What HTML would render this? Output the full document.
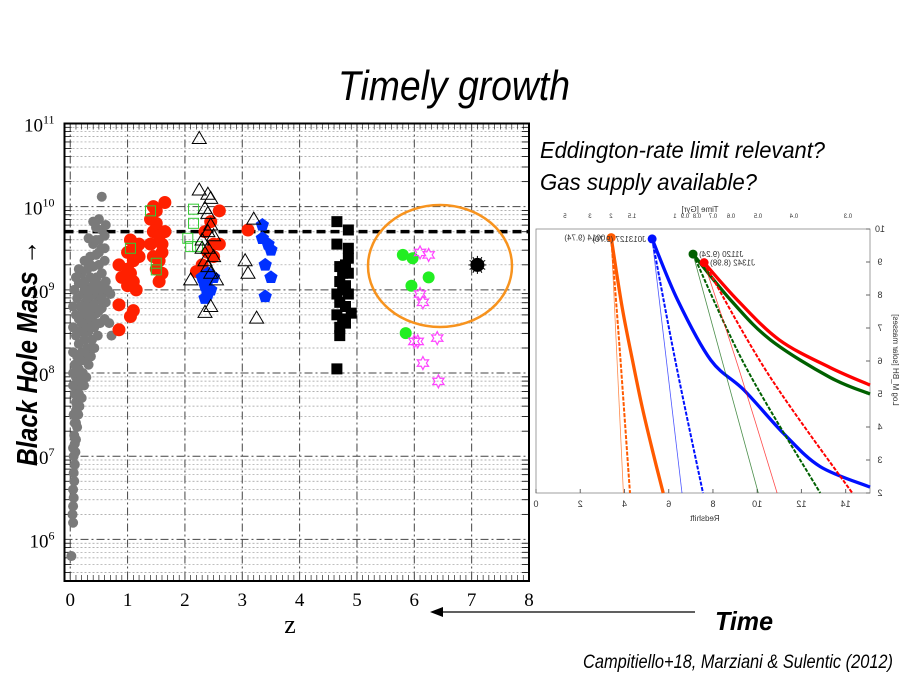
<!DOCTYPE html>
<html><head><meta charset="utf-8">
<style>
html,body{margin:0;padding:0;background:#fff;}
body{width:900px;height:675px;position:relative;overflow:hidden;}
svg{position:absolute;left:0;top:0;}
.narrow{font-family:"Liberation Sans Narrow","Liberation Sans",sans-serif;font-style:italic;}
</style></head>
<body>
<svg id="slide" width="900" height="675">
  <text x="338" y="100" textLength="232" lengthAdjust="spacingAndGlyphs" class="narrow" font-size="42" fill="#000">Timely growth</text>
  <text x="540" y="158" textLength="285" lengthAdjust="spacingAndGlyphs" class="narrow" font-size="23" fill="#000">Eddington-rate limit relevant?</text>
  <text x="540" y="190" textLength="217" lengthAdjust="spacingAndGlyphs" class="narrow" font-size="23" fill="#000">Gas supply available?</text>
  <text transform="translate(37,466) rotate(-90)" textLength="226" lengthAdjust="spacingAndGlyphs" font-family="'Liberation Sans Narrow','Liberation Sans',sans-serif" font-weight="bold" font-style="italic" font-size="29" fill="#000">Black Hole Mass →</text>
  <line x1="440" y1="612" x2="695" y2="612" stroke="#000" stroke-width="1.3"/>
  <polygon points="430,612 443,607 443,617" fill="#000"/>
  <text x="715" y="630" textLength="58" lengthAdjust="spacingAndGlyphs" font-family="'Liberation Sans Narrow','Liberation Sans',sans-serif" font-weight="bold" font-style="italic" font-size="26" fill="#000">Time</text>
  <text x="583" y="668" textLength="310" lengthAdjust="spacingAndGlyphs" class="narrow" font-size="19" fill="#000">Campitiello+18, Marziani &amp; Sulentic (2012)</text>
  <g id="main"></g>
  <g id="inset"></g>
</svg>
<script>
// ---------- main chart data ([z, log10 M]) ----------
const xTicks = [0,1,2,3,4,5,6,7,8];
const yDecades = [6,7,8,9,10,11];
const eddingtonLine = 9.70;
const grayPts = [[0.02,5.8],[0.05,6.2],[0.04,6.3],[0.05,6.4],[0.06,6.5],[0.05,6.6],[0.07,6.7],[0.06,6.8],[0.08,6.9],[0.06,7.0],[0.09,7.05],[0.05,7.1],[0.1,7.2],[0.07,7.25],[0.12,7.35],[0.08,7.4],[0.14,7.5],[0.06,7.5],[0.1,7.55],[0.16,7.6],[0.1,7.65],[0.2,7.7],[0.08,7.75],[0.13,7.8],[0.24,7.85],[0.05,7.85],[0.18,7.9],[0.1,7.95],[0.28,7.95],[0.22,8.0],[0.05,8.0],[0.15,8.05],[0.32,8.1],[0.08,8.1],[0.26,8.15],[0.12,8.2],[0.36,8.2],[0.2,8.25],[0.05,8.25],[0.3,8.3],[0.42,8.3],[0.15,8.35],[0.25,8.4],[0.38,8.4],[0.1,8.45],[0.48,8.45],[0.32,8.5],[0.2,8.5],[0.05,8.55],[0.42,8.55],[0.52,8.6],[0.28,8.6],[0.15,8.65],[0.38,8.65],[0.6,8.65],[0.1,8.7],[0.22,8.7],[0.46,8.72],[0.32,8.75],[0.55,8.78],[0.05,8.8],[0.18,8.8],[0.4,8.82],[0.27,8.85],[0.62,8.85],[0.5,8.88],[0.12,8.9],[0.35,8.92],[0.22,8.95],[0.45,8.95],[0.58,8.97],[0.07,9.0],[0.3,9.02],[0.4,9.05],[0.52,9.05],[0.15,9.08],[0.25,9.1],[0.62,9.1],[0.35,9.15],[0.46,9.15],[0.2,9.2],[0.55,9.2],[0.3,9.25],[0.4,9.28],[0.5,9.3],[0.25,9.35],[0.6,9.35],[0.35,9.4],[0.45,9.42],[0.55,9.5],[0.4,9.55],[0.5,9.6],[0.32,9.62],[0.6,9.65],[0.45,9.75],[0.55,9.72],[0.62,9.78],[0.5,9.85],[0.4,9.82],[0.55,10.12],[0.1,9.15],[0.15,9.25],[0.65,9.0],[0.7,8.95],[0.68,8.6],[0.72,8.45],[0.3,8.7],[0.35,8.55],[0.45,8.6],[0.5,8.75],[0.25,8.55],[0.4,8.95],[0.55,8.9],[0.3,8.9],[0.2,8.6],[0.15,8.5],[0.25,8.25],[0.18,8.15],[0.12,8.0],[0.2,7.95],[0.15,7.75],[0.1,7.4],[0.12,7.6],[0.08,7.15],[0.45,9.1],[0.35,9.3],[0.5,9.45],[0.45,9.6],[0.35,9.0],[0.6,9.5],[0.25,9.0]];
const redPts = [[0.85,9.3],[0.9,9.15],[0.85,8.82],[0.85,8.52],[1.1,8.75],[1.05,8.68],[1.0,9.05],[1.05,9.2],[1.1,9.35],[1.15,9.5],[1.0,9.45],[1.2,9.4],[1.1,9.1],[1.15,9.0],[1.05,9.6],[1.2,9.55],[1.0,9.25],[1.4,9.55],[1.45,9.7],[1.5,9.8],[1.55,9.65],[1.6,9.45],[1.45,9.4],[1.5,9.25],[1.55,9.1],[1.6,9.55],[1.65,9.7],[1.4,9.85],[1.5,9.95],[1.65,10.05],[1.45,10.0],[1.55,9.35],[1.6,9.2],[2.3,9.3],[2.4,9.45],[2.5,9.55],[2.6,9.55],[2.35,9.7],[2.45,9.82],[2.6,9.95],[2.2,9.22],[3.1,9.72],[2.5,9.4]];
const triPts = [[2.25,10.82],[2.25,10.2],[2.4,10.15],[2.45,10.1],[2.35,9.98],[2.4,9.92],[2.45,9.78],[2.4,9.7],[2.5,9.65],[2.3,9.6],[2.4,9.5],[2.5,9.4],[2.35,9.35],[2.4,9.28],[2.45,9.2],[2.1,9.12],[2.55,9.12],[2.35,8.73],[2.45,8.8],[3.05,9.35],[3.1,9.2],[3.25,8.66],[3.2,9.85],[2.3,9.5]];
const greenSqPts = [[1.4,9.95],[2.15,9.97],[2.15,9.8],[2.05,9.62],[2.1,9.52],[2.22,9.52],[1.05,9.5],[1.5,9.32],[1.5,9.24]];
const bluePts = [[2.3,9.15],[2.4,9.12],[2.5,9.15],[2.35,9.05],[2.45,9.0],[2.4,8.95],[2.35,8.9],[2.4,9.2],[3.35,9.78],[3.35,9.62],[3.45,9.55],[3.5,9.48],[3.4,9.3],[3.5,9.15],[3.4,8.92]];
const blackSqPts = [[4.65,9.82],[4.85,9.72],[4.65,9.55],[4.85,9.5],[4.85,9.38],[4.7,9.28],[4.8,9.3],[4.75,9.2],[4.85,9.2],[4.7,9.1],[4.8,9.05],[4.75,9.0],[4.65,8.95],[4.85,8.95],[4.7,8.85],[4.8,8.8],[4.9,8.72],[4.65,8.7],[4.75,8.65],[4.7,8.55],[4.8,8.6],[4.7,8.45],[4.65,8.05]];
const greenCircPts = [[5.8,9.42],[5.97,9.38],[6.25,9.15],[5.95,9.05],[5.85,8.48]];
const starPts = [[6.1,9.45],[6.25,9.42],[6.1,8.95],[6.15,8.85],[6.0,8.38],[6.06,8.38],[6.4,8.42],[6.15,8.12],[6.42,7.9]];
const blackStarPts = [[7.1,9.3]];

// ---------- inset data ([redshift, log M]) ----------
const insetXTicks = [0,2,4,6,8,10,12,14];
const insetYTicks = [2,3,4,5,6,7,8,9,10];
const timeTicks = ['0.3','0.4','0.5','0.6','0.7','0.8','0.9','1','1.5','2','3','5'];
const seeds = [
 {name:'0014', label:'0014 (9.74)', color:'#ff5a00', start:[3.4,9.74],
  thick:[[3.4,9.74],[3.9,7.6],[4.4,5.9],[4.8,4.6],[5.3,3.2],[5.75,2]], dashed:[[3.4,9.74],[3.8,6.2],[4.25,2]], thin:[[3.4,9.74],[3.95,2]]},
 {name:'j013127', label:'J013127 (9.70)', color:'#0010ff', start:[5.25,9.70],
  thick:[[5.25,9.70],[6.4,7.85],[7.9,6.03],[9.4,5.12],[11.2,3.8],[12.85,2.8],[15.1,2.18]], dashed:[[5.25,9.70],[6.3,6.0],[7.55,2]], thin:[[5.25,9.70],[6.6,2]]},
 {name:'j1120', label:'J1120 (9.24)', color:'#006000', start:[7.1,9.24],
  thick:[[7.1,9.24],[8.8,7.85],[10.6,6.64],[13.3,5.5],[15.1,5.0]], dashed:[[7.1,9.24],[9.5,5.8],[12.85,2]], thin:[[7.1,9.24],[8.5,5.8],[10.05,2]]},
 {name:'j1342', label:'J1342 (8.98)', color:'#ff0000', start:[7.6,8.98],
  thick:[[7.6,8.98],[9.1,7.85],[11.0,6.64],[13.3,5.8],[15.1,5.27]], dashed:[[7.6,8.98],[10.5,5.6],[14.3,2]], thin:[[7.6,8.98],[9.2,5.7],[10.9,2]]}
];

const NS='http://www.w3.org/2000/svg';
function mk(tag,attrs,parent){const e=document.createElementNS(NS,tag);for(const k in attrs)e.setAttribute(k,attrs[k]);parent.appendChild(e);return e;}

// ---------- main axes ----------
const main=document.getElementById('main');
const X0=64.5,X1=529,Y0=123.5,Y1=581;
const zMin=-0.1,zMax=8.0,lMin=5.5,lMax=11;
const sx=z=>X0+(z-zMin)/(zMax-zMin)*(X1-X0);
const sy=l=>Y1-(l-lMin)/(lMax-lMin)*(Y1-Y0);

for(let d=5;d<=10;d++){for(let m=2;m<=9;m++){const l=d+Math.log10(m);if(l<lMin||l>lMax)continue;
 const g=mk('line',{x1:X0,x2:X1,y1:sy(l),y2:sy(l),stroke:'#999','stroke-width':0.7,'stroke-dasharray':'2,2'},main);
 
 
 [[X0,X0+7],[X1-7,X1]].forEach(p=>{const t=mk('line',{x1:p[0],x2:p[1],y1:sy(l),y2:sy(l),stroke:'#000','stroke-width':0.8},main);});
}}
for(let z=0;z<=8;z+=0.1){[[Y1,Y1-6],[Y0,Y0+6]].forEach(p=>{const t=mk('line',{x1:sx(z),x2:sx(z),y1:p[0],y2:p[1],stroke:'#000','stroke-width':0.6},main);});}
yDecades.forEach(d=>{const g=mk('line',{x1:X0,x2:X1,y1:sy(d),y2:sy(d),stroke:'#444','stroke-width':1,'stroke-dasharray':'8,3,2,3'},main);
 
 
 const t=mk('text',{x:X0-10,y:sy(d)+8,'text-anchor':'end','font-family':'Liberation Serif, serif','font-size':19},main);
 
 
 t.textContent='10';const s=mk('tspan',{dy:-8,'font-size':12},t);s.textContent=String(d);});
xTicks.forEach(z=>{const g=mk('line',{x1:sx(z),x2:sx(z),y1:Y0,y2:Y1,stroke:'#444','stroke-width':1,'stroke-dasharray':'8,3,2,3'},main);
 
 
 const t=mk('text',{x:sx(z),y:606,'text-anchor':'middle','font-family':'Liberation Serif, serif','font-size':19},main);
 
 
 t.textContent=String(z);});
const fr=mk('rect',{x:X0,y:Y0,width:X1-X0,height:Y1-Y0,fill:'none',stroke:'#000','stroke-width':2},main);


const xt=mk('text',{x:290,y:633,'text-anchor':'middle','font-family':'Liberation Serif, serif','font-size':26},main);


xt.textContent='z';
const ed=mk('line',{x1:X0,x2:X1,y1:sy(eddingtonLine),y2:sy(eddingtonLine),stroke:'#000','stroke-width':3.5,'stroke-dasharray':'9,5'},main);



function plot(pts,name,fn){pts.forEach(p=>{const e=fn(sx(p[0]),sy(p[1]));});}
plot(grayPts,'gray-point',(x,y)=>mk('circle',{cx:x,cy:y,r:5,fill:'#7a7a7a'},main));
plot(redPts,'red-point',(x,y)=>mk('circle',{cx:x,cy:y,r:6.5,fill:'#ff2000'},main));
plot(greenSqPts,'green-square',(x,y)=>mk('rect',{x:x-5,y:y-5,width:10,height:10,fill:'none',stroke:'#3c3','stroke-width':1},main));
plot(bluePts,'blue-pentagon',(x,y)=>{let s='';for(let i=0;i<5;i++){const a=-Math.PI/2+i*2*Math.PI/5;s+=(x+7*Math.cos(a))+','+(y+7*Math.sin(a))+' ';}return mk('polygon',{points:s,fill:'#0030ff'},main);});
plot(triPts,'open-triangle',(x,y)=>mk('polygon',{points:`${x},${y-7} ${x-7},${y+5} ${x+7},${y+5}`,fill:'none',stroke:'#000','stroke-width':1},main));
plot(blackSqPts,'black-square',(x,y)=>mk('rect',{x:x-5.5,y:y-5.5,width:11,height:11,fill:'#000'},main));
plot(greenCircPts,'green-circle',(x,y)=>mk('circle',{cx:x,cy:y,r:6,fill:'#22ee22'},main));
plot(starPts,'magenta-star',(x,y)=>{let s='';for(let i=0;i<12;i++){const a=-Math.PI/2+i*Math.PI/6;const r=i%2?3.5:6.5;s+=(x+r*Math.cos(a))+','+(y+r*Math.sin(a))+' ';}return mk('polygon',{points:s,fill:'none',stroke:'#f4f','stroke-width':1.2},main);});
plot(blackStarPts,'black-star',(x,y)=>{const g=mk('g',{},main);mk('circle',{cx:x,cy:y,r:7,fill:'#000'},g);for(let i=0;i<12;i++){const a=i*Math.PI/6;mk('line',{x1:x,y1:y,x2:x+9*Math.cos(a),y2:y+9*Math.sin(a),stroke:'#000','stroke-width':1},g);}return g;});
const el=mk('ellipse',{cx:440,cy:266,rx:72,ry:61,fill:'none',stroke:'#f7931e','stroke-width':2.5},main);



// ---------- inset ----------
const ins=document.getElementById('inset');
const IX0=536,IX1=870,IY0=229,IY1=493;
const ix=z=>IX0+z/(15.1)*(IX1-IX0);
const iy=l=>IY1-(l-2)/8*(IY1-IY0);
const ifr=mk('rect',{x:IX0,y:IY0,width:IX1-IX0,height:IY1-IY0,fill:'none',stroke:'#888','stroke-width':0.8},ins);


function mirText(x,y,txt,size,name,anchor){const t=mk('text',{x:-x,y:y,transform:'scale(-1,1)','text-anchor':anchor||'middle','font-family':'Liberation Sans, sans-serif','font-size':size,fill:'#333'},ins);t.textContent=txt;return t;}
insetXTicks.forEach(z=>{mk('line',{x1:ix(z),x2:ix(z),y1:IY1,y2:IY1-4,stroke:'#666'},ins);mirText(ix(z),507,String(z),9,'inset-x-tick-label');});
insetYTicks.forEach(l=>{mk('line',{x1:IX1,x2:IX1-4,y1:iy(l),y2:iy(l),stroke:'#666'},ins);mirText(880,iy(l)+3,String(l),9,'inset-y-tick-label');});
timeTicks.forEach((t,i)=>{const xs=[848,794,758,731,713,697,685,675,632,611,590,565];mirText(xs[i],218,t,6,'inset-time-tick');});
mirText(700,212,'Time  [Gyr]',8,'inset-top-axis-title');
mirText(705,521,'Redshift',8,'inset-x-axis-title');
const yl=mk('text',{transform:'translate(893,360) rotate(90) scale(-1,1)','text-anchor':'middle','font-family':'Liberation Sans, sans-serif','font-size':8,fill:'#333'},ins);


yl.textContent='Log M_BH [solar masses]';
function path(pts){
 const P=pts.map(p=>[ix(p[0]),iy(p[1])]);
 if(P.length<3)return 'M'+P.map(p=>p[0].toFixed(1)+','+p[1].toFixed(1)).join(' L');
 let d='M'+P[0][0].toFixed(1)+','+P[0][1].toFixed(1);
 for(let i=0;i<P.length-1;i++){const p0=P[Math.max(0,i-1)],p1=P[i],p2=P[i+1],p3=P[Math.min(P.length-1,i+2)];
  const c1=[p1[0]+(p2[0]-p0[0])/6,p1[1]+(p2[1]-p0[1])/6],c2=[p2[0]-(p3[0]-p1[0])/6,p2[1]-(p3[1]-p1[1])/6];
  d+=` C${c1[0].toFixed(1)},${c1[1].toFixed(1)} ${c2[0].toFixed(1)},${c2[1].toFixed(1)} ${p2[0].toFixed(1)},${p2[1].toFixed(1)}`;}
 return d;}
seeds.forEach(s=>{
 const a=mk('path',{d:path(s.thin),fill:'none',stroke:s.color,'stroke-width':0.8,opacity:0.7},ins);
 
 
 const b=mk('path',{d:path(s.dashed),fill:'none',stroke:s.color,'stroke-width':2,'stroke-dasharray':'4,1.5'},ins);
 
 
 const c=mk('path',{d:path(s.thick),fill:'none',stroke:s.color,'stroke-width':3.3},ins);
 
 
 const d=mk('circle',{cx:ix(s.start[0]),cy:iy(s.start[1]),r:4.5,fill:s.color},ins);
 
 
});
seeds.forEach((s,i)=>{const x=ix(s.start[0])+(i<2?-6:6);mirText(x,iy(s.start[1])+3,s.label,8,'inset-quasar-label',i<2?'start':'end');});
</script>
</body></html>
